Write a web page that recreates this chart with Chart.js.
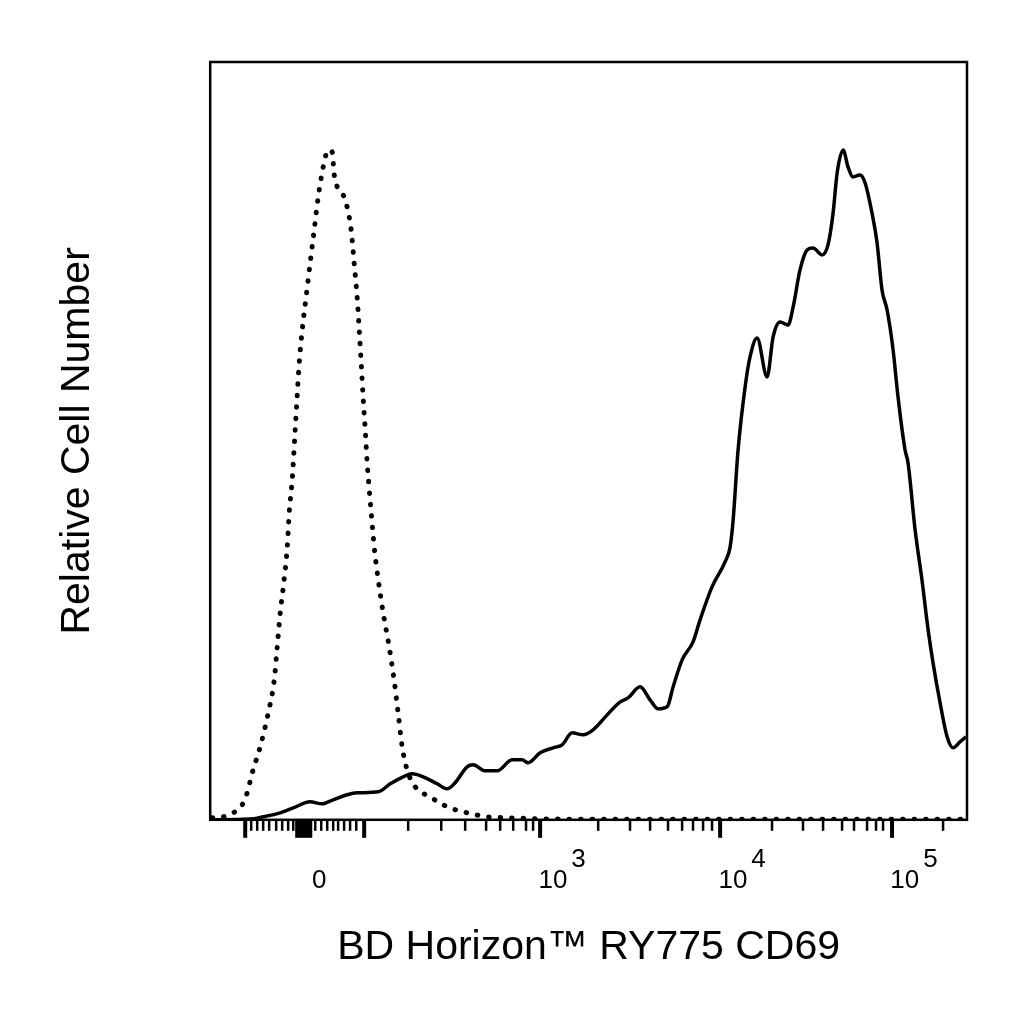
<!DOCTYPE html>
<html>
<head>
<meta charset="utf-8">
<title>RY775 CD69</title>
<script src="https://cdn.jsdelivr.net/npm/chart.js@4.4.0/dist/chart.umd.min.js"></script>
<style>
  html, body { margin: 0; padding: 0; background: #fff; }
  canvas { display: block; }
</style>
</head>
<body>
<canvas id="histCanvas" width="1024" height="1024"></canvas>
<script>
// x is in display units of the biexponential axis: 10^3 = 3, 10^4 ~ 4, 10^5 = 5
// y is relative cell number, 100 = top of the plot

// isotype control (dotted)
let isoX = [1.136, 1.199, 1.256, 1.307, 1.335, 1.364, 1.409, 1.455, 1.489, 1.506,
    1.523, 1.545, 1.563, 1.574, 1.591, 1.608, 1.619, 1.631, 1.648, 1.670,
    1.693, 1.716, 1.739, 1.773, 1.795, 1.818, 1.830, 1.847, 1.881, 1.903,
    1.926, 1.943, 1.960, 1.972, 1.983, 1.994, 2.006, 2.017, 2.028, 2.040,
    2.057, 2.080, 2.108, 2.142, 2.170, 2.193, 2.216, 2.244, 2.290, 2.375,
    2.472, 2.585, 2.699, 2.830, 3.000, 3.341, 5.420];
let isoY = [0.26, 0.40, 0.92, 1.98, 3.56, 6.20, 9.63, 14.12, 18.47, 22.82,
    27.31, 31.66, 36.02, 40.50, 44.85, 51.45, 55.80, 60.29, 64.64, 69.00,
    73.48, 77.84, 82.19, 86.81, 88.39, 88.13, 85.09, 83.51, 82.45, 80.87,
    77.84, 73.48, 69.00, 64.64, 60.29, 55.80, 51.45, 47.10, 43.80, 40.50,
    36.02, 31.66, 27.31, 22.82, 18.47, 14.12, 9.63, 6.60, 4.35, 3.03,
    1.72, 0.92, 0.40, 0.26, 0.13, 0.07, 0.07];

// CD69 stained (solid)
let cd69X = [1.125, 1.350, 1.426, 1.523, 1.597, 1.693, 1.761, 1.824, 1.903, 1.960,
    2.080, 2.148, 2.222, 2.273, 2.335, 2.415, 2.472, 2.517, 2.585, 2.619,
    2.688, 2.756, 2.841, 2.898, 2.932, 3.000, 3.074, 3.125, 3.182, 3.244,
    3.301, 3.381, 3.455, 3.500, 3.568, 3.625, 3.670, 3.722, 3.756, 3.807,
    3.869, 3.909, 3.977, 4.051, 4.080, 4.097, 4.125, 4.165, 4.193, 4.233,
    4.290, 4.324, 4.364, 4.409, 4.438, 4.477, 4.517, 4.551, 4.602, 4.636,
    4.665, 4.688, 4.722, 4.750, 4.778, 4.818, 4.847, 4.886, 4.915, 4.943,
    4.972, 5.006, 5.034, 5.074, 5.091, 5.131, 5.170, 5.205, 5.233, 5.273,
    5.313, 5.347, 5.386, 5.420];
let cd69Y = [0.00, 0.10, 0.40, 0.92, 1.58, 2.37, 2.11, 2.64, 3.30, 3.56,
    3.69, 4.75, 5.67, 6.07, 5.67, 4.75, 4.09, 4.88, 6.99, 7.26,
    6.46, 6.46, 7.92, 7.92, 7.52, 8.84, 9.50, 9.89, 11.48, 11.21,
    11.87, 13.85, 15.57, 16.09, 17.55, 15.83, 14.64, 14.91, 17.55, 21.11,
    23.48, 26.39, 30.74, 34.04, 36.02, 39.58, 48.81, 57.12, 61.08, 63.59,
    58.44, 63.72, 65.70, 65.30, 67.68, 72.56, 75.20, 75.46, 74.54, 75.86,
    80.08, 85.36, 88.39, 86.15, 84.83, 85.09, 84.04, 80.08, 76.12, 69.92,
    67.28, 62.01, 55.80, 48.81, 47.10, 38.26, 31.66, 25.07, 20.71, 15.44,
    10.95, 9.50, 10.29, 10.95];

// axis ticks (display units)
let majorTicks = [1.324, 2.0, 3.0, 4.023, 5.0];
let zeroBand = [1.608, 1.705];
let minorTicks = [1.358, 1.392, 1.426, 1.460, 1.500, 1.534, 1.568, 1.597,
    1.722, 1.756, 1.790, 1.824, 1.852, 1.886, 1.920, 1.955,
    2.250, 2.438, 2.574, 2.693, 2.773, 2.847, 2.920, 2.960,
    3.330, 3.511, 3.625, 3.727, 3.807, 3.869, 3.926, 3.977,
    4.318, 4.494, 4.608, 4.716, 4.784, 4.858, 4.909, 4.949,
    5.290];
let labelAt = [1.659, 3.0, 4.023, 5.0];
let labelBase = ['0', '10', '10', '10'];
let labelExp = ['', '3', '4', '5'];

let fontFamily = 'Arial, "Liberation Sans", Helvetica, sans-serif';

let toPoints = function (xs, ys) {
    return xs.map(function (v, i) { return { x: v, y: ys[i] }; });
};

let axisMarks = {
    id: 'axisMarks',
    afterDraw: function (chart) {
        let ctx = chart.ctx;
        let a = chart.chartArea;
        let x = chart.scales.x;
        ctx.save();
        ctx.strokeStyle = '#000';
        ctx.lineWidth = 2.5;
        ctx.strokeRect(a.left, a.top, a.right - a.left, a.bottom - a.top);

        ctx.fillStyle = '#000';
        minorTicks.forEach(function (v) {
            let px = x.getPixelForValue(v);
            ctx.fillRect(px - 1.25, a.bottom, 2.5, 11);
        });
        majorTicks.forEach(function (v) {
            let px = x.getPixelForValue(v);
            ctx.fillRect(px - 2, a.bottom, 4, 18);
        });
        let z0 = x.getPixelForValue(zeroBand[0]);
        let z1 = x.getPixelForValue(zeroBand[1]);
        ctx.fillRect(z0, a.bottom, z1 - z0, 18);

        ctx.font = '26px ' + fontFamily;
        ctx.textBaseline = 'alphabetic';
        ctx.textAlign = 'left';
        labelAt.forEach(function (v, i) {
            let px = x.getPixelForValue(v);
            let wb = ctx.measureText(labelBase[i]).width;
            let we = labelExp[i] ? ctx.measureText(labelExp[i]).width + 4 : 0;
            let start = px + (labelExp[i] ? 22 : 15) - (wb + we) / 2;
            ctx.fillText(labelBase[i], start, 888);
            if (labelExp[i]) {
                ctx.fillText(labelExp[i], start + wb + 4, 867);
            }
        });
        ctx.restore();
    }
};

let ctx = document.getElementById('histCanvas').getContext('2d');
window.histChart = new Chart(ctx, {
    type: 'line',
    data: {
        datasets: [{
            label: 'Isotype control',
            data: toPoints(isoX, isoY),
            borderColor: '#000',
            borderWidth: 5,
            borderDash: [0.5, 11],
            borderCapStyle: 'round',
            pointRadius: 0,
            fill: false,
            cubicInterpolationMode: 'monotone'
        }, {
            label: 'CD69',
            data: toPoints(cd69X, cd69Y),
            borderColor: '#000',
            borderWidth: 3.5,
            pointRadius: 0,
            fill: false,
            cubicInterpolationMode: 'monotone'
        }]
    },
    options: {
        responsive: false,
        animation: false,
        devicePixelRatio: 1,
        layout: { padding: { top: 62, right: 57, left: 0, bottom: 0 } },
        plugins: {
            legend: { display: false },
            tooltip: { enabled: false }
        },
        scales: {
            x: {
                type: 'linear',
                min: 1.125,
                max: 5.426,
                ticks: { display: false },
                grid: { display: false, drawTicks: false },
                border: { display: false },
                title: {
                    display: true,
                    text: 'BD Horizon™ RY775 CD69',
                    color: '#000',
                    font: { family: fontFamily, size: 41 },
                    padding: { top: 103, bottom: 52 }
                }
            },
            y: {
                type: 'linear',
                min: 0,
                max: 100,
                ticks: { display: false },
                grid: { display: false, drawTicks: false },
                border: { display: false },
                title: {
                    display: true,
                    text: 'Relative Cell Number',
                    color: '#000',
                    font: { family: fontFamily, size: 41 },
                    padding: { top: 53, bottom: 108 }
                }
            }
        }
    },
    plugins: [axisMarks]
});
</script>
</body>
</html>
